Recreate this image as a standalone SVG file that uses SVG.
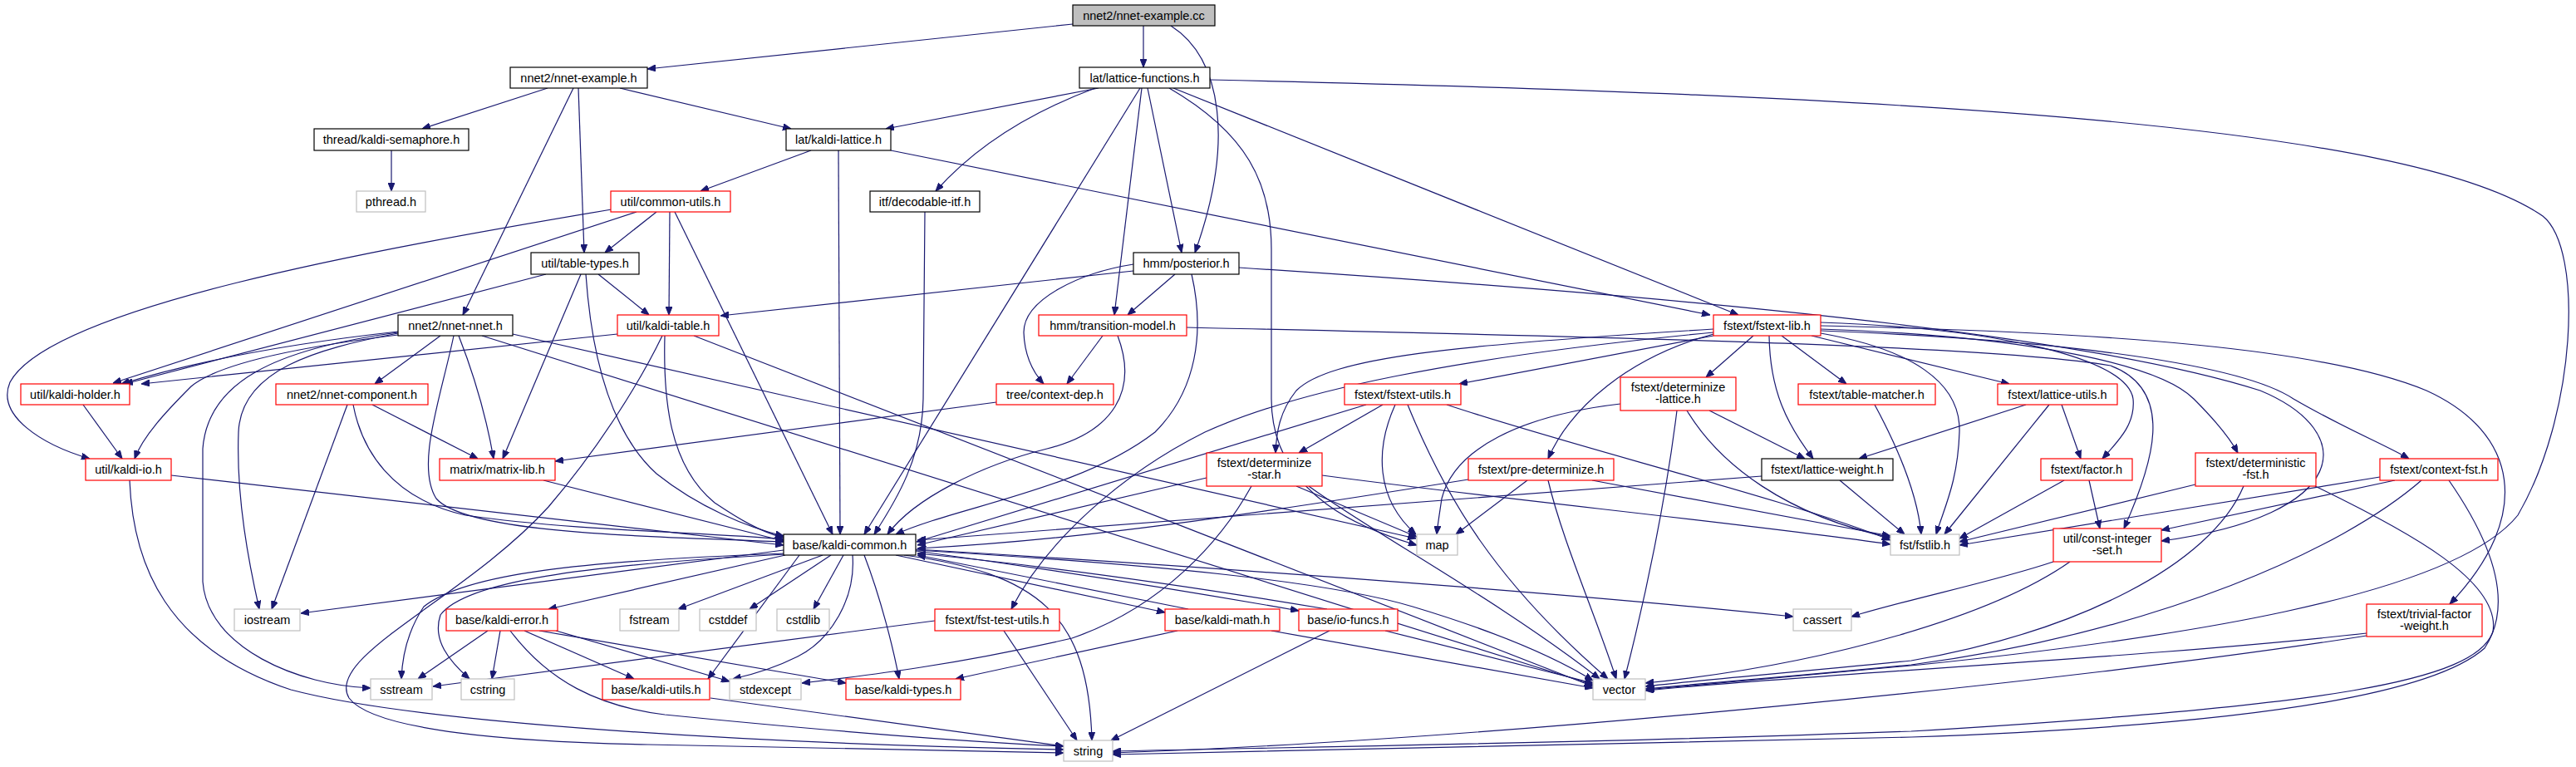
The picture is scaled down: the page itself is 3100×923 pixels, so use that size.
<svg xmlns="http://www.w3.org/2000/svg" width="3100" height="923" viewBox="0 0 3100 923">
<defs>
<marker id="arr" markerWidth="10" markerHeight="8" refX="10" refY="4" orient="auto" markerUnits="userSpaceOnUse"><path d="M0,0 L10,4 L0,8 z" fill="#191970" stroke="#191970" stroke-width="1"/></marker>
</defs>
<style>
.n rect{fill:#ffffff;stroke:#000000;stroke-width:1.2}
.r rect{stroke:#ff0000}
.g rect{stroke:#bfbfbf}
.root rect{fill:#bfbfbf}
text{font-family:"Liberation Sans",Arial,sans-serif;font-size:14.5px;text-anchor:middle;fill:#000000}
#edges path{fill:none;stroke:#191970;stroke-width:1.2;marker-end:url(#arr)}
</style>
<rect width="3100" height="923" fill="#ffffff"/>
<g id="edges">
<path d="M1291,29 L779,83"/>
<path d="M1376,31 L1376,81"/>
<path d="M1409,31 C1470,70 1486,170 1438,304"/>
<path d="M659,106 L508,155"/>
<path d="M690,106 L557,379"/>
<path d="M696,106 L703,304"/>
<path d="M746,106 L952,155"/>
<path d="M471,181 L471,230"/>
<path d="M1322,106 L1066,155"/>
<path d="M1318,106 C1240,135 1175,175 1126,230"/>
<path d="M1372,106 L1040,643"/>
<path d="M1374,106 L1341,379"/>
<path d="M1381,106 L1422,304"/>
<path d="M1407,106 C1500,160 1530,220 1530,300 L1530,480 C1530,600 1650,640 1705,656"/>
<path d="M1412,106 L2092,379"/>
<path d="M1456,96 C2300,115 2900,150 3060,260 C3110,300 3100,500 3030,620 C2950,720 2600,770 2310,800 L1981,830"/>
<path d="M976,181 L843,230"/>
<path d="M1009,181 L1011,643"/>
<path d="M1072,181 L2058,379"/>
<path d="M790,255 L728,304"/>
<path d="M806,255 L805,379"/>
<path d="M812,255 L1002,643"/>
<path d="M766,255 L136,461"/>
<path d="M736,252 C450,300 60,370 12,460 C-5,500 50,535 108,552"/>
<path d="M657,330 L150,462"/>
<path d="M720,330 L781,379"/>
<path d="M699,330 L605,552"/>
<path d="M705,330 C712,430 735,520 790,570 C840,610 900,635 943,645"/>
<path d="M479,399 C380,410 250,430 146,462"/>
<path d="M479,403 C340,420 260,440 230,465 C200,495 172,525 162,552"/>
<path d="M530,404 L451,462"/>
<path d="M552,404 C570,450 585,500 594,552"/>
<path d="M546,404 C530,480 500,560 525,600 C560,640 750,645 943,652"/>
<path d="M479,401 C380,420 290,445 287,520 C284,600 300,680 312,733"/>
<path d="M479,400 C330,420 250,460 244,540 L244,700 C250,780 360,825 446,828"/>
<path d="M617,402 L1704,648"/>
<path d="M580,404 L1917,824"/>
<path d="M743,402 L170,462"/>
<path d="M800,404 C798,480 805,560 860,605 C890,625 915,640 943,647"/>
<path d="M797,404 C770,460 720,540 660,610 C560,720 390,790 420,840 C450,880 620,893 780,896 C1000,900 1150,904 1280,906"/>
<path d="M835,404 L1917,826"/>
<path d="M1364,326 L867,380"/>
<path d="M1364,318 C1300,328 1232,360 1232,400 C1233,430 1245,450 1256,462"/>
<path d="M1414,330 L1357,379"/>
<path d="M1434,330 C1450,400 1440,470 1390,520 C1300,590 1150,610 1078,643"/>
<path d="M1491,322 C2000,355 2500,400 2720,470 C2840,520 2830,620 2601,651"/>
<path d="M1327,404 L1284,462"/>
<path d="M1345,404 C1370,470 1340,520 1260,540 C1180,560 1100,600 1068,643"/>
<path d="M1428,394 C1900,405 2400,415 2540,440 C2620,470 2590,560 2556,636"/>
<path d="M1199,484 L668,555"/>
<path d="M1113,255 L1111,480 C1110,550 1080,600 1052,643"/>
<path d="M100,487 L147,552"/>
<path d="M418,487 L327,733"/>
<path d="M425,487 C435,540 470,600 560,620 C700,640 850,640 943,649"/>
<path d="M448,487 L575,552"/>
<path d="M654,578 L943,651"/>
<path d="M206,572 L943,656"/>
<path d="M156,578 C160,680 200,780 350,830 C500,870 900,895 1280,902"/>
<path d="M943,662 L362,738"/>
<path d="M990,668 L816,733"/>
<path d="M1000,668 L902,733"/>
<path d="M1015,668 L979,733"/>
<path d="M945,666 C700,675 560,690 510,730 C490,760 484,790 483,817"/>
<path d="M945,667 C700,680 560,700 530,740 C520,770 540,795 565,817"/>
<path d="M945,668 L660,733"/>
<path d="M962,668 L852,817"/>
<path d="M1026,668 C1030,720 1000,770 960,790 C930,805 905,812 882,817"/>
<path d="M1040,668 C1060,720 1075,780 1082,817"/>
<path d="M1088,668 C1250,690 1310,740 1314,891"/>
<path d="M1078,668 L1402,737"/>
<path d="M1102,663 C1300,690 1450,715 1563,735"/>
<path d="M1102,661 C1500,685 1900,715 2158,742"/>
<path d="M1102,662 C1400,680 1600,700 1700,730 C1800,760 1870,790 1917,819"/>
<path d="M1430,733 L1104,668"/>
<path d="M1597,733 C1400,700 1250,680 1104,666"/>
<path d="M587,759 L503,817"/>
<path d="M602,759 L592,817"/>
<path d="M631,759 L763,817"/>
<path d="M649,759 L1018,822"/>
<path d="M669,759 L878,820"/>
<path d="M614,759 C660,820 720,850 800,860 C1000,880 1150,892 1280,898"/>
<path d="M855,840 L1280,898"/>
<path d="M1125,747 L521,826"/>
<path d="M1208,759 L1296,891"/>
<path d="M1417,759 L1150,817"/>
<path d="M1530,759 L1917,828"/>
<path d="M1600,759 L1337,891"/>
<path d="M1667,759 L1917,822"/>
<path d="M2062,404 L1756,462"/>
<path d="M2110,404 L2053,454"/>
<path d="M2144,404 L2222,462"/>
<path d="M2129,404 C2130,470 2150,510 2182,552"/>
<path d="M2062,402 C1960,430 1890,490 1863,552"/>
<path d="M2062,396 C1750,415 1600,430 1560,470 C1540,495 1536,520 1535,545"/>
<path d="M2062,400 C1750,430 1560,470 1450,520 C1350,570 1260,650 1217,733"/>
<path d="M2191,388 C2400,395 2560,430 2567,480 C2570,510 2550,530 2530,552"/>
<path d="M2191,392 C2550,400 2800,420 2920,470 C3030,520 3050,620 2948,727"/>
<path d="M2191,396 C2450,405 2600,440 2640,480 C2670,510 2685,530 2693,545"/>
<path d="M2191,398 C2500,410 2700,440 2760,480 C2820,515 2870,535 2899,552"/>
<path d="M2180,404 L2418,462"/>
<path d="M2191,401 C2300,420 2360,460 2358,520 C2356,580 2340,610 2330,643"/>
<path d="M1664,487 L1563,545"/>
<path d="M1644,487 L1103,652"/>
<path d="M1679,487 C1655,540 1655,600 1704,643"/>
<path d="M1694,487 C1740,600 1800,700 1935,817"/>
<path d="M1741,487 C1900,540 2150,600 2275,650"/>
<path d="M1452,575 L1104,656"/>
<path d="M1560,585 L1705,646"/>
<path d="M1575,585 C1650,640 1800,720 1925,817"/>
<path d="M1506,585 C1470,650 1400,730 1290,768 C1150,800 1050,812 965,822"/>
<path d="M1591,572 C1800,600 2100,630 2275,655"/>
<path d="M1950,486 C1830,500 1750,540 1735,600 C1732,620 1730,632 1729,643"/>
<path d="M2018,494 C2005,600 1980,720 1955,817"/>
<path d="M2030,494 C2070,560 2150,620 2275,647"/>
<path d="M2057,494 L2172,552"/>
<path d="M2256,487 C2290,550 2308,600 2312,643"/>
<path d="M1767,577 C1500,620 1300,650 1104,660"/>
<path d="M1838,578 L1752,643"/>
<path d="M1863,578 C1880,650 1920,740 1945,817"/>
<path d="M1916,578 L2275,645"/>
<path d="M2120,573 L1104,650"/>
<path d="M2214,578 L2292,643"/>
<path d="M2438,487 L2237,552"/>
<path d="M2481,487 L2504,552"/>
<path d="M2466,487 L2340,643"/>
<path d="M2484,578 L2358,648"/>
<path d="M2514,578 L2527,636"/>
<path d="M2642,583 L2358,652"/>
<path d="M2700,585 C2660,680 2500,760 2300,795 C2150,810 2050,818 1980,826"/>
<path d="M2786,585 C2900,640 3010,700 3000,760 C2980,820 2800,850 2300,880 C1900,895 1500,900 1339,904"/>
<path d="M2864,574 L2358,656"/>
<path d="M2882,578 L2601,638"/>
<path d="M2914,578 C2820,660 2600,760 2300,800 C2150,815 2050,822 1980,829"/>
<path d="M2947,578 C2990,640 3030,720 2990,780 C2900,860 2500,880 2300,887 C1900,898 1500,903 1339,908"/>
<path d="M2471,676 C2400,700 2300,720 2228,742"/>
<path d="M2491,676 C2400,740 2200,800 1980,822"/>
<path d="M2848,762 C2600,790 2200,810 1980,831"/>
<path d="M2848,765 C2500,820 1800,890 1339,906"/>
</g>
<g id="root" class="n root"><rect x="1291" y="6" width="171" height="25"/><text x="1376.5" y="23.5">nnet2/nnet-example.cc</text></g>
<g id="ex_h" class="n"><rect x="614" y="81" width="165" height="25"/><text x="696.5" y="98.5">nnet2/nnet-example.h</text></g>
<g id="lf" class="n"><rect x="1299" y="81" width="157" height="25"/><text x="1377.5" y="98.5">lat/lattice-functions.h</text></g>
<g id="sem" class="n"><rect x="378" y="155" width="186" height="26"/><text x="471" y="173">thread/kaldi-semaphore.h</text></g>
<g id="kl" class="n"><rect x="946" y="155" width="126" height="26"/><text x="1009" y="173">lat/kaldi-lattice.h</text></g>
<g id="pth" class="n g"><rect x="429" y="230" width="83" height="25"/><text x="470.5" y="247.5">pthread.h</text></g>
<g id="cu" class="n r"><rect x="735" y="230" width="144" height="25"/><text x="807" y="247.5">util/common-utils.h</text></g>
<g id="dec" class="n"><rect x="1047" y="230" width="132" height="25"/><text x="1113" y="247.5">itf/decodable-itf.h</text></g>
<g id="tt" class="n"><rect x="639" y="304" width="130" height="26"/><text x="704" y="322">util/table-types.h</text></g>
<g id="post" class="n"><rect x="1364" y="304" width="127" height="26"/><text x="1427.5" y="322">hmm/posterior.h</text></g>
<g id="nn" class="n"><rect x="479" y="379" width="138" height="25"/><text x="548" y="396.5">nnet2/nnet-nnet.h</text></g>
<g id="kt" class="n r"><rect x="743" y="379" width="122" height="25"/><text x="804" y="396.5">util/kaldi-table.h</text></g>
<g id="tm" class="n r"><rect x="1250" y="379" width="178" height="25"/><text x="1339" y="396.5">hmm/transition-model.h</text></g>
<g id="fl" class="n r"><rect x="2062" y="379" width="129" height="25"/><text x="2126.5" y="396.5">fstext/fstext-lib.h</text></g>
<g id="kh" class="n r"><rect x="25" y="462" width="131" height="25"/><text x="90.5" y="479.5">util/kaldi-holder.h</text></g>
<g id="nc" class="n r"><rect x="332" y="462" width="183" height="25"/><text x="423.5" y="479.5">nnet2/nnet-component.h</text></g>
<g id="cd" class="n r"><rect x="1199" y="462" width="141" height="25"/><text x="1269.5" y="479.5">tree/context-dep.h</text></g>
<g id="fu" class="n r"><rect x="1618" y="462" width="140" height="25"/><text x="1688" y="479.5">fstext/fstext-utils.h</text></g>
<g id="dl" class="n r"><rect x="1950" y="454" width="139" height="40"/><text x="2019.5" y="470.5">fstext/determinize</text><text x="2019.5" y="485">-lattice.h</text></g>
<g id="tmat" class="n r"><rect x="2164" y="462" width="165" height="25"/><text x="2246.5" y="479.5">fstext/table-matcher.h</text></g>
<g id="lu" class="n r"><rect x="2404" y="462" width="144" height="25"/><text x="2476" y="479.5">fstext/lattice-utils.h</text></g>
<g id="io" class="n r"><rect x="103" y="552" width="103" height="26"/><text x="154.5" y="570">util/kaldi-io.h</text></g>
<g id="ml" class="n r"><rect x="529" y="552" width="139" height="26"/><text x="598.5" y="570">matrix/matrix-lib.h</text></g>
<g id="ds" class="n r"><rect x="1452" y="545" width="139" height="40"/><text x="1521.5" y="561.5">fstext/determinize</text><text x="1521.5" y="576">-star.h</text></g>
<g id="pd" class="n r"><rect x="1767" y="552" width="175" height="26"/><text x="1854.5" y="570">fstext/pre-determinize.h</text></g>
<g id="lw" class="n"><rect x="2120" y="552" width="158" height="26"/><text x="2199" y="570">fstext/lattice-weight.h</text></g>
<g id="fac" class="n r"><rect x="2456" y="552" width="110" height="26"/><text x="2511" y="570">fstext/factor.h</text></g>
<g id="dfst" class="n r"><rect x="2642" y="545" width="145" height="40"/><text x="2714.5" y="561.5">fstext/deterministic</text><text x="2714.5" y="576">-fst.h</text></g>
<g id="cf" class="n r"><rect x="2864" y="552" width="142" height="26"/><text x="2935" y="570">fstext/context-fst.h</text></g>
<g id="kc" class="n"><rect x="943" y="643" width="159" height="25"/><text x="1022.5" y="660.5">base/kaldi-common.h</text></g>
<g id="map" class="n g"><rect x="1705" y="643" width="49" height="25"/><text x="1729.5" y="660.5">map</text></g>
<g id="fst" class="n g"><rect x="2275" y="643" width="83" height="25"/><text x="2316.5" y="660.5">fst/fstlib.h</text></g>
<g id="cis" class="n r"><rect x="2471" y="636" width="130" height="40"/><text x="2536" y="652.5">util/const-integer</text><text x="2536" y="667">-set.h</text></g>
<g id="ios" class="n g"><rect x="282" y="733" width="79" height="26"/><text x="321.5" y="751">iostream</text></g>
<g id="err" class="n r"><rect x="537" y="733" width="134" height="26"/><text x="604" y="751">base/kaldi-error.h</text></g>
<g id="fstream" class="n g"><rect x="746" y="733" width="71" height="26"/><text x="781.5" y="751">fstream</text></g>
<g id="cstddef" class="n g"><rect x="842" y="733" width="68" height="26"/><text x="876" y="751">cstddef</text></g>
<g id="cstdlib" class="n g"><rect x="935" y="733" width="63" height="26"/><text x="966.5" y="751">cstdlib</text></g>
<g id="ftu" class="n r"><rect x="1125" y="733" width="150" height="26"/><text x="1200" y="751">fstext/fst-test-utils.h</text></g>
<g id="km" class="n r"><rect x="1402" y="733" width="138" height="26"/><text x="1471" y="751">base/kaldi-math.h</text></g>
<g id="iof" class="n r"><rect x="1563" y="733" width="119" height="26"/><text x="1622.5" y="751">base/io-funcs.h</text></g>
<g id="cassert" class="n g"><rect x="2158" y="733" width="70" height="26"/><text x="2193" y="751">cassert</text></g>
<g id="tfw" class="n r"><rect x="2848" y="727" width="139" height="39"/><text x="2917.5" y="743.5">fstext/trivial-factor</text><text x="2917.5" y="758">-weight.h</text></g>
<g id="ss" class="n g"><rect x="446" y="817" width="74" height="25"/><text x="483" y="834.5">sstream</text></g>
<g id="cstring" class="n g"><rect x="555" y="817" width="64" height="25"/><text x="587" y="834.5">cstring</text></g>
<g id="ku" class="n r"><rect x="725" y="817" width="129" height="25"/><text x="789.5" y="834.5">base/kaldi-utils.h</text></g>
<g id="stdexcept" class="n g"><rect x="878" y="817" width="86" height="25"/><text x="921" y="834.5">stdexcept</text></g>
<g id="kty" class="n r"><rect x="1018" y="817" width="138" height="25"/><text x="1087" y="834.5">base/kaldi-types.h</text></g>
<g id="vector" class="n g"><rect x="1917" y="817" width="63" height="25"/><text x="1948.5" y="834.5">vector</text></g>
<g id="string" class="n g"><rect x="1280" y="891" width="59" height="25"/><text x="1309.5" y="908.5">string</text></g>
</svg>
